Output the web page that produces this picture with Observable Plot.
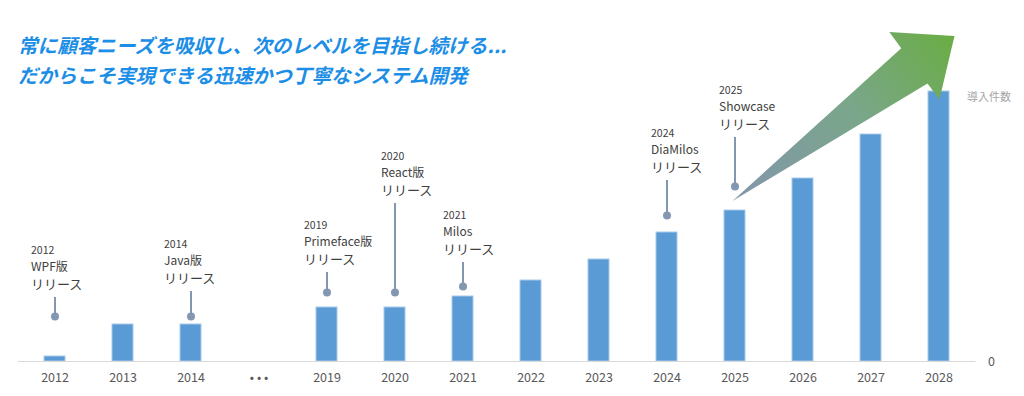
<!DOCTYPE html>
<html>
<head>
<meta charset="utf-8">
<script src="https://cdn.jsdelivr.net/npm/d3@7"></script>
<script src="https://cdn.jsdelivr.net/npm/@observablehq/plot@0.6"></script>
<style>
  html, body { margin: 0; padding: 0; background: #fff; }
  #wrap { position: relative; width: 1024px; height: 396px; overflow: hidden; }
  #title {
    position: absolute; left: 18px; top: 30px;
    font-family: "Noto Sans CJK JP", sans-serif; font-weight: 700; font-style: italic;
    font-size: 19.6px; line-height: 30px; color: #1c8ee6; white-space: nowrap;
  }
  svg { display: block; }
</style>
</head>
<body>
<div id="wrap">
  <div id="chart"></div>
  <div id="title">常に顧客ニーズを吸収し、次のレベルを目指し続ける...<br>だからこそ実現できる迅速かつ丁寧なシステム開発</div>
</div>
<script>
// ---- data ----
const categories = ["2012","2013","2014","…","2019","2020","2021","2022","2023","2024","2025","2026","2027","2028"];
const counts = [5, 37, 37, null, 54, 54, 65, 81, 102, 129, 151, 183, 227, 270];

const releaseYears = ["2012","2014","2019","2020","2021","2024","2025"];
const releaseNames = ["WPF版","Java版","Primeface版","React版","Milos","DiaMilos","Showcase"];
const releaseWord = "リリース";
const releaseDot = [45, 45, 69, 69, 75, 146, 175];
const releaseTop = [64, 70, 89, 158, 99, 181, 224];

const yLabel = "導入件数";

// ---- layout (styling only) ----
const labelShift = [-24, -27, -23, -14, -20, -16, -16];
const arrowFrom = {year: "2025", value: 160};
const arrowTo = {year: "2028", value: 325};

const bars = categories.map((c, i) => ({year: c, count: counts[i]})).filter(d => d.count != null);
const releases = releaseYears.map((y, i) => ({
  year: y, name: releaseNames[i], word: releaseWord, dot: releaseDot[i], top: releaseTop[i], shift: labelShift[i]
}));

const font = "'Noto Sans CJK JP', 'Noto Sans', sans-serif";
const pin = "#8497b0";

function arrowMark(index, scales, values, dims) {
  const bw = scales.x.bandwidth ? scales.x.bandwidth() : 0;
  const x0 = scales.x(arrowFrom.year) + bw / 2 - 2, y0 = scales.y(arrowFrom.value);
  const x1 = scales.x(arrowTo.year) + bw / 2 + 16, y1 = scales.y(arrowTo.value);
  const dx = x1 - x0, dy = y1 - y0, L = Math.hypot(dx, dy);
  const ux = dx / L, uy = dy / L, nx = -uy, ny = ux;
  const headLen = 50, headHalf = 42, shaftHalf = 22;
  const P = (a, b) => [x0 + ux * a + nx * b, y0 + uy * a + ny * b];
  const pts = [P(0, 0), P(L - headLen, -shaftHalf), P(L - headLen, -headHalf), P(L, 0),
               P(L - headLen, headHalf), P(L - headLen, shaftHalf)];
  const g = d3.create("svg:g");
  const grad = g.append("defs").append("linearGradient")
    .attr("id", "arrowGrad").attr("gradientUnits", "userSpaceOnUse")
    .attr("x1", x0).attr("y1", y0).attr("x2", x1).attr("y2", y1);
  grad.append("stop").attr("offset", "0%").attr("stop-color", "#8396ad");
  grad.append("stop").attr("offset", "55%").attr("stop-color", "#7aa68a");
  grad.append("stop").attr("offset", "100%").attr("stop-color", "#6aad44");
  g.append("path").attr("d", "M" + pts.map(p => p.join(",")).join("L") + "Z")
    .attr("fill", "url(#arrowGrad)");
  return g.node();
}

const labelOpts = {x: "year", y: "top", textAnchor: "start", lineAnchor: "middle", fill: "#404040", className: "rel-label"};

const chart = Plot.plot({
  width: 1024,
  height: 396,
  marginLeft: 18,
  marginRight: 48.6,
  marginTop: 91,
  marginBottom: 35,
  style: {fontFamily: font, background: "#fff"},
  x: {domain: categories, paddingInner: 0.69, paddingOuter: 0.345, label: null},
  y: {domain: [0, 270], label: null},
  marks: [
    Plot.barY(bars, {x: "year", y: "count", fill: "#5b9bd5", stroke: "#a7c9ea", strokeWidth: 1}),
    Plot.ruleY([0], {stroke: "#d9d9d9", strokeWidth: 1}),
    Plot.axisX({tickSize: 0, tickPadding: 12, fontSize: 12.5, color: "#595959",
      tickFormat: d => d === "…" ? "• • •" : d}),
    Plot.axisY({anchor: "right", ticks: [0], tickSize: 0, tickPadding: 12, fontSize: 12.5, color: "#595959", label: null}),
    Plot.text([yLabel], {frameAnchor: "top-right", textAnchor: "start", lineAnchor: "middle",
      dx: -9, dy: 6, fontSize: 11, fill: "#a6a6a6"}),
    Plot.ruleX(releases, {x: "year", y1: "dot", y2: "top", stroke: pin, strokeWidth: 2}),
    Plot.dot(releases, {x: "year", y: "dot", r: 4, fill: pin, stroke: "none"}),
    Plot.text(releases, {...labelOpts, text: "word", dy: -13, fontSize: 13}),
    Plot.text(releases, {...labelOpts, text: "name", dy: -30.5, fontSize: 12}),
    Plot.text(releases, {...labelOpts, text: "year", dy: -47, fontSize: 10.5}),
    arrowMark
  ]
});

// apply per-label horizontal shift (label layout)
chart.querySelectorAll("g.rel-label").forEach(g => {
  g.querySelectorAll("text").forEach((t, i) => {
    const tr = t.getAttribute("transform") || "";
    t.setAttribute("transform", tr + ` translate(${releases[i].shift},0)`);
  });
});

document.getElementById("chart").appendChild(chart);
</script>
</body>
</html>
